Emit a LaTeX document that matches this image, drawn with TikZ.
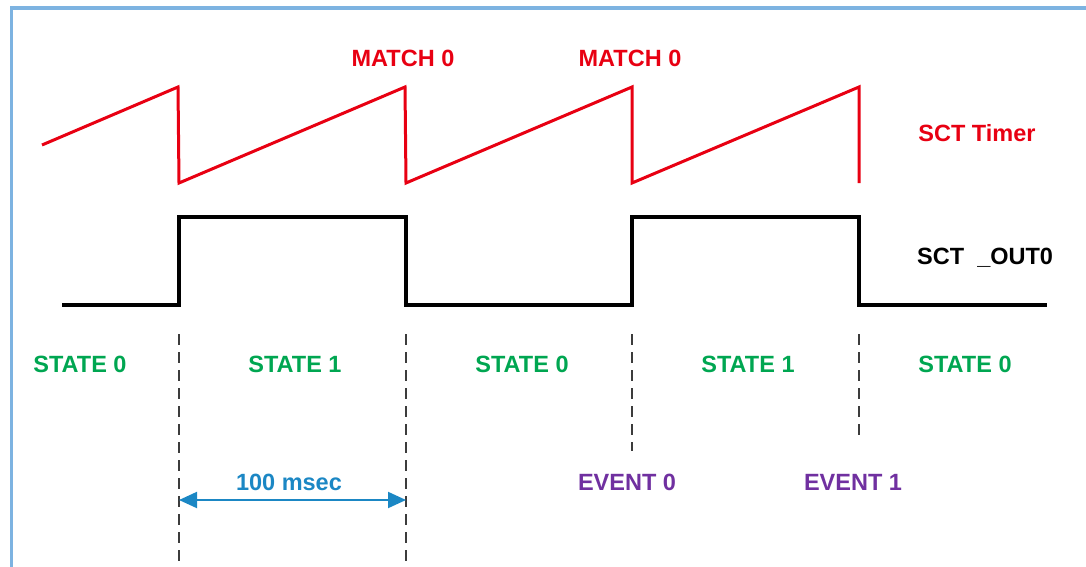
\documentclass[tikz,border=0pt]{standalone}
\usepackage{fontspec}
\setmainfont{Liberation Sans}
\usetikzlibrary{arrows.meta}
\definecolor{framebl}{RGB}{125,179,225}
\definecolor{timerred}{RGB}{232,0,18}
\definecolor{stategreen}{RGB}{0,166,81}
\definecolor{eventpurple}{RGB}{112,48,160}
\definecolor{spanblue}{RGB}{27,135,196}
\definecolor{dashgray}{RGB}{60,60,60}
\tikzset{
  lbl/.style={anchor=base, inner sep=0pt, font=\fontsize{23.5}{28}\selectfont\bfseries},
  statelbl/.style={lbl, text=stategreen},
  eventlbl/.style={lbl, text=eventpurple},
  timerwave/.style={draw=timerred, line width=3pt, line join=miter},
  outwave/.style={draw=black, line width=3.2pt, line join=miter},
  boundary/.style={draw=dashgray, line width=2.2pt, dash pattern=on 11pt off 7pt},
  spanarrow/.style={draw=spanblue, line width=2pt, {Triangle[length=18pt,width=16pt]}-{Triangle[length=18pt,width=16pt]}}
}
\begin{document}
\begin{tikzpicture}[x=1pt,y=-1pt]
\useasboundingbox (0,0) rectangle (1086,567);
% open frame along the top and left
\draw[framebl, line width=3.2pt] (11.5,567) -- (11.5,8) -- (1086,8);

% edge times
\coordinate (e0) at (179,0);
\coordinate (e1) at (406,0);
\coordinate (e2) at (632,0);
\coordinate (e3) at (859,0);

% SCT timer sawtooth
\draw[timerwave] (42,145) -- (178,87) -- (179,183) -- (405,87) -- (406,183)
  -- (632,87) -- (632,183) -- (859,87) -- (859,183);

% SCT_OUT0 square wave
\draw[outwave] (62,305) -- (179,305) -- (179,217) -- (406,217) -- (406,305)
  -- (632,305) -- (632,217) -- (859,217) -- (859,305) -- (1047,305);

% state boundaries
\draw[boundary] (179,334) -- (179,564);
\draw[boundary] (406,334) -- (406,564);
\draw[boundary] (632,334) -- (632,451);
\draw[boundary] (859,334) -- (859,438);

% period span
\coordinate (sa) at (179,500);
\coordinate (sb) at (406,500);
\draw[spanarrow] (sa) -- (sb);

% labels
\node[lbl, text=timerred] (m0) at (403,67) {MATCH 0};
\node[lbl, text=timerred] (m1) at (630,67) {MATCH 0};
\node[lbl, text=timerred] (tmr) at (977,142) {SCT Timer};
\node[lbl, text=black, anchor=base west] (out) at (917,264) {SCT\ \ \_OUT0};

\node[statelbl] (s0) at (80,372) {STATE 0};
\node[statelbl] (s1) at (295,372) {STATE 1};
\node[statelbl] (s2) at (522,372) {STATE 0};
\node[statelbl] (s3) at (748,372) {STATE 1};
\node[statelbl] (s4) at (965,372) {STATE 0};

\node[lbl, text=spanblue] (per) at (289,490) {100 msec};
\node[eventlbl] (ev0) at (627,490) {EVENT 0};
\node[eventlbl] (ev1) at (853,490) {EVENT 1};
\end{tikzpicture}
\end{document}
